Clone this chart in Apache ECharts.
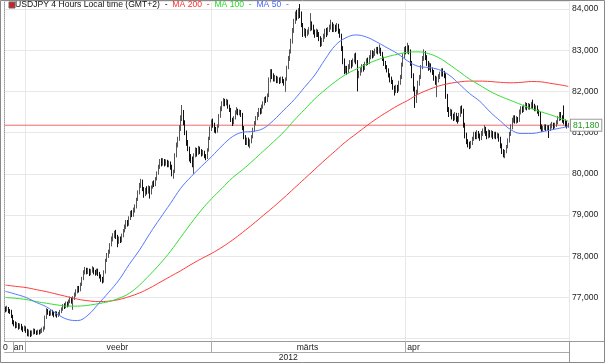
<!DOCTYPE html>
<html><head><meta charset="utf-8">
<script src="https://cdn.jsdelivr.net/npm/echarts@6/dist/echarts.min.js"></script>
<style>html,body{margin:0;padding:0;background:#fff}#c{width:605px;height:363px}</style>
</head><body><div id="c"></div>
<script>
// ---- DATA (4-hour candles, [open, close, low, high]) ----
const janCandles = [
[76.72,76.70,76.64,76.78],[76.70,76.74,76.66,76.80],[76.74,76.68,76.62,76.77],[76.68,76.66,76.60,76.72],
[76.66,76.55,76.50,76.70],[76.55,76.40,76.35,76.58],[76.40,76.36,76.30,76.45],[76.36,76.30,76.25,76.42],
[76.30,76.34,76.26,76.40],[76.34,76.28,76.22,76.38],[76.28,76.32,76.24,76.37],[76.32,76.26,76.20,76.36],
[76.26,76.22,76.16,76.30],[76.22,76.27,76.18,76.32]
];
const febCandles = [
[76.27,76.20,76.14,76.30],[76.20,76.12,76.06,76.24],[76.12,76.16,76.05,76.22],[76.16,76.10,76.04,76.20],
[76.10,76.15,76.06,76.20],[76.15,76.20,76.10,76.25],[76.20,76.16,76.11,76.24],[76.16,76.14,76.09,76.20],
[76.14,76.18,76.10,76.22],[76.18,76.15,76.10,76.22],[76.15,76.19,76.12,76.24],[76.19,76.22,76.14,76.27],
[76.22,76.25,76.17,76.30],[76.25,76.52,76.22,76.56],[76.52,76.68,76.48,76.74],[76.68,76.64,76.58,76.72],
[76.64,76.60,76.55,76.68],[76.60,76.66,76.56,76.70],[76.66,76.62,76.56,76.70],[76.62,76.58,76.52,76.66],
[76.58,76.63,76.54,76.67],[76.63,76.57,76.51,76.66],[76.57,76.60,76.53,76.65],[76.60,76.66,76.56,76.70],
[76.66,76.72,76.62,76.76],[76.72,76.80,76.68,76.84],[76.80,76.78,76.72,76.86],[76.78,76.86,76.74,76.90],
[76.86,76.82,76.76,76.90],[76.82,76.90,76.78,76.95],[76.90,76.96,76.86,77.02],[76.96,76.92,76.85,77.00],
[76.92,76.98,76.70,77.03],[76.98,77.08,76.94,77.12],[77.08,77.15,77.02,77.20],[77.15,77.22,77.10,77.28],
[77.22,77.18,77.12,77.28],[77.18,77.32,77.15,77.36],[77.32,77.45,77.28,77.50],[77.45,77.62,77.42,77.66],
[77.62,77.68,77.56,77.74],[77.68,77.62,77.56,77.72],[77.62,77.66,77.57,77.72],[77.66,77.58,77.52,77.70],
[77.58,77.64,77.54,77.69],[77.64,77.70,77.60,77.76],[77.70,77.62,77.56,77.73],[77.62,77.60,77.53,77.67],
[77.60,77.66,77.55,77.70],[77.66,77.58,77.52,77.70],[77.58,77.52,77.46,77.62],[77.52,77.44,77.38,77.56],
[77.44,77.40,77.34,77.50],[77.40,77.62,77.36,77.66],[77.62,77.90,77.58,77.94],[77.90,78.02,77.86,78.08],
[78.02,78.10,77.96,78.16],[78.10,78.28,78.06,78.32],[78.28,78.42,78.24,78.48],[78.42,78.50,78.36,78.56],
[78.50,78.58,78.44,78.62],[78.58,78.48,78.42,78.64],[78.48,78.36,78.22,78.52],[78.36,78.42,78.30,78.48],
[78.42,78.38,78.32,78.48],[78.38,78.50,78.34,78.55],[78.50,78.62,78.46,78.66],[78.62,78.72,78.58,78.77],
[78.72,78.82,78.66,78.88],[78.82,78.78,78.72,78.88],[78.78,78.92,78.74,78.97],[78.92,79.05,78.88,79.10],
[79.05,79.00,78.95,79.12],[79.00,79.12,78.96,79.18],[79.12,79.20,79.06,79.26],[79.20,79.38,79.16,79.42],
[79.38,79.55,79.34,79.60],[79.55,79.72,79.50,79.78],[79.72,79.82,79.66,79.88],[79.82,79.64,79.58,79.86],
[79.64,79.50,79.42,79.68],[79.50,79.62,79.46,79.66],[79.62,79.58,79.50,79.70],[79.58,79.66,79.52,79.72],
[79.66,79.55,79.40,79.70],[79.55,79.68,79.50,79.72],[79.68,79.78,79.64,79.82],[79.78,79.74,79.68,79.84],
[79.74,79.88,79.70,79.92],[79.88,80.02,79.84,80.06],[80.02,80.18,79.98,80.22],[80.18,80.30,80.12,80.36],
[80.30,80.26,80.18,80.38],[80.26,80.32,80.20,80.38],[80.32,80.24,80.18,80.36],[80.24,80.30,80.20,80.35],
[80.30,80.22,80.16,80.34],[80.22,80.26,80.16,80.32],[80.26,80.18,80.10,80.30],[80.18,80.00,79.94,80.22],
[80.00,80.06,79.88,80.10],[80.06,80.45,80.02,80.50],[80.45,80.70,80.40,80.76],[80.70,80.85,80.64,80.90],
[80.85,81.10,80.80,81.18],[81.10,81.35,81.04,81.42],[81.35,81.46,81.28,81.67],[81.46,81.25,81.18,81.55],
[81.25,81.00,80.94,81.30],[81.00,80.76,80.68,81.05],[80.76,80.62,80.55,80.82],[80.62,80.40,80.30,80.66],
[80.40,80.34,80.26,80.48],[80.34,80.30,80.16,80.42],[80.30,80.45,80.00,80.50],[80.45,80.58,80.40,80.64],
[80.58,80.50,80.42,80.63],[80.50,80.62,80.46,80.68],[80.62,80.55,80.48,80.66],[80.55,80.48,80.42,80.60],
[80.48,80.52,80.44,80.58],[80.52,80.44,80.38,80.56],[80.44,80.40,80.33,80.48],[80.40,80.58,80.36,80.62],
[80.58,80.86,80.54,80.90],[80.86,81.10,80.82,81.15]
];
const marCandles = [
[81.10,81.26,81.04,81.32],[81.26,81.20,81.12,81.34],[81.20,81.08,81.00,81.24],[81.08,81.04,80.98,81.14],
[81.04,81.15,81.00,81.20],[81.15,81.40,81.12,81.45],[81.40,81.58,81.36,81.64],[81.58,81.70,81.52,81.76],
[81.70,81.78,81.64,81.84],[81.78,81.72,81.64,81.82],[81.72,81.76,81.66,81.82],[81.76,81.64,81.58,81.80],
[81.64,81.56,81.50,81.68],[81.56,81.32,81.26,81.60],[81.32,81.24,81.16,81.36],[81.24,81.36,81.20,81.40],
[81.36,81.50,81.32,81.54],[81.50,81.55,81.44,81.62],[81.55,81.48,81.42,81.58],[81.48,81.52,81.42,81.56],
[81.52,81.44,81.38,81.55],[81.44,81.12,81.06,81.48],[81.12,80.90,80.84,81.16],[80.90,80.78,80.70,80.94],
[80.78,80.84,80.70,80.88],[80.84,80.74,80.66,80.88],[80.74,80.80,80.62,80.84],[80.80,80.90,80.74,80.94],
[80.90,81.08,80.86,81.12],[81.08,81.22,81.02,81.28],[81.22,81.36,81.18,81.40],[81.36,81.44,81.30,81.50],
[81.44,81.54,81.38,81.60],[81.54,81.50,81.44,81.60],[81.50,81.62,81.46,81.68],[81.62,81.72,81.58,81.76],
[81.72,81.82,81.66,81.86],[81.82,81.78,81.72,81.88],[81.78,81.90,81.74,81.95],[81.90,82.28,81.86,82.34],
[82.28,82.46,82.22,82.54],[82.46,82.38,82.30,82.54],[82.38,82.30,82.24,82.44],[82.30,82.34,82.24,82.40],
[82.34,82.26,82.20,82.38],[82.26,82.30,82.20,82.36],[82.30,82.24,82.18,82.34],[82.24,82.32,82.20,82.36],
[82.32,82.26,82.20,82.36],[82.26,82.22,82.14,82.30],[82.22,82.30,81.99,82.34],[82.30,82.58,82.26,82.62],
[82.58,82.80,82.54,82.86],[82.80,82.96,82.74,83.02],[82.96,83.22,82.92,83.28],[83.22,83.48,83.16,83.54],
[83.48,83.70,83.42,83.76],[83.70,83.88,83.64,83.94],[83.88,83.80,83.72,83.98],[83.80,83.96,83.76,84.02],
[83.96,83.90,83.78,84.12],[83.90,83.62,83.56,83.94],[83.62,83.40,83.32,83.66],[83.40,83.48,83.34,83.54],
[83.48,83.38,83.30,83.52],[83.38,83.44,83.34,83.50],[83.44,83.50,83.38,83.56],[83.50,83.62,83.46,83.90],
[83.62,83.56,83.48,83.70],[83.56,83.44,83.38,83.62],[83.44,83.36,83.30,83.50],[83.36,83.46,83.32,83.52],
[83.46,83.40,83.32,83.50],[83.40,83.30,83.22,83.44],[83.30,83.16,83.08,83.34],[83.16,83.24,83.10,83.30],
[83.24,83.34,83.20,83.40],[83.34,83.46,83.28,83.52],[83.46,83.40,83.32,83.54],[83.40,83.50,83.36,83.56],
[83.50,83.56,83.44,83.62],[83.56,83.62,83.50,83.74],[83.62,83.50,83.44,83.68],[83.50,83.58,83.44,83.64],
[83.58,83.52,83.44,83.62],[83.52,83.60,83.46,83.66],[83.60,83.48,83.40,83.64],[83.48,83.36,83.30,83.52],
[83.36,83.06,82.98,83.40],[83.06,82.74,82.66,83.10],[82.74,82.50,82.42,82.80],[82.50,82.56,82.44,82.62],
[82.56,82.48,82.40,82.62],[82.48,82.60,82.44,82.66],[82.60,82.70,82.54,82.76],[82.70,82.64,82.56,82.76],
[82.64,82.74,82.60,82.80],[82.74,82.86,82.70,82.92],[82.86,82.72,82.66,82.94],[82.72,82.40,82.00,82.76],
[82.40,82.44,82.32,82.50],[82.44,82.52,82.38,82.58],[82.52,82.60,82.46,82.66],[82.60,82.56,82.48,82.66],
[82.56,82.68,82.52,82.72],[82.68,82.76,82.62,82.80],[82.76,82.70,82.64,82.82],[82.70,82.82,82.66,82.88],
[82.82,82.94,82.78,83.00],[82.94,82.88,82.80,83.00],[82.88,82.92,82.82,82.98],[82.92,82.98,82.86,83.04],
[82.98,83.04,82.92,83.08],[83.04,82.96,82.90,83.08],[82.96,83.02,82.92,83.14],[83.02,82.92,82.86,83.06],
[82.92,82.80,82.74,82.96],[82.80,82.70,82.62,82.84],[82.70,82.60,82.54,82.74],[82.60,82.52,82.46,82.64],
[82.52,82.40,82.34,82.56],[82.40,82.30,82.22,82.44],[82.30,82.24,82.18,82.36],[82.24,82.10,82.04,82.28],
[82.10,82.02,81.90,82.14],[82.02,82.10,81.96,82.16],[82.10,82.04,81.96,82.16],[82.04,82.20,82.00,82.26],
[82.20,82.34,82.16,82.40],[82.34,82.64,82.30,82.70],[82.64,82.86,82.60,82.92],[82.86,83.02,82.80,83.08]
];
const aprCandles = [
[83.02,82.96,82.90,83.10],[82.96,83.06,82.92,83.18],[83.06,82.98,82.90,83.12],[82.98,82.70,82.62,83.02],
[82.70,82.40,82.32,82.74],[82.40,82.08,82.00,82.44],[82.08,81.80,81.60,82.12],[81.80,81.98,81.72,82.04],
[81.98,82.20,81.94,82.26],[82.20,82.34,82.14,82.40],[82.34,82.58,82.30,82.64],[82.58,82.80,82.54,82.86],
[82.80,82.92,82.74,83.02],[82.92,82.84,82.76,82.98],[82.84,82.70,82.62,82.88],[82.70,82.58,82.50,82.74],
[82.58,82.64,82.52,82.70],[82.64,82.54,82.46,82.68],[82.54,82.48,82.40,82.58],[82.48,82.34,82.26,82.52],
[82.34,82.24,82.16,82.38],[82.24,82.30,81.86,82.36],[82.30,82.36,82.22,82.42],[82.36,82.42,82.30,82.48],
[82.42,82.50,82.36,82.56],[82.50,82.44,82.36,82.56],[82.44,82.40,82.32,82.50],[82.40,81.90,81.82,82.44],
[81.90,81.58,81.50,81.94],[81.58,81.46,81.38,81.62],[81.46,81.52,81.40,81.58],[81.52,81.40,81.32,81.56],
[81.40,81.36,81.28,81.46],[81.36,81.44,81.30,81.50],[81.44,81.34,81.26,81.48],[81.34,81.30,81.22,81.40],
[81.30,81.42,81.26,81.48],[81.42,81.58,81.38,81.64],[81.58,81.54,81.46,81.66],[81.54,81.20,81.12,81.58],
[81.20,80.94,80.86,81.24],[80.94,80.80,80.72,81.00],[80.80,80.72,80.64,80.84],[80.72,80.68,80.60,80.78],
[80.68,80.76,80.62,80.80],[80.76,80.84,80.70,80.90],[80.84,80.96,80.80,81.02],[80.96,80.90,80.84,81.02],
[80.90,81.00,80.84,81.06],[81.00,80.92,80.86,81.04],[80.92,80.86,80.80,80.98],[80.86,80.98,80.82,81.04],
[80.98,81.04,80.92,81.10],[81.04,81.10,80.98,81.18],[81.10,80.98,80.92,81.14],[80.98,80.90,80.84,81.04],
[80.90,81.02,80.86,81.08],[81.02,80.94,80.88,81.06],[80.94,81.00,80.88,81.06],[81.00,80.92,80.84,81.04],
[80.92,80.98,80.86,81.02],[80.98,80.90,80.84,81.02],[80.90,80.94,80.86,81.00],[80.94,80.86,80.78,80.98],
[80.86,80.70,80.62,80.90],[80.70,80.56,80.48,80.74],[80.56,80.48,80.40,80.60],[80.48,80.54,80.38,80.58],
[80.54,80.66,80.50,80.70],[80.66,80.80,80.62,80.86],[80.80,80.96,80.76,81.02],[80.96,81.14,80.92,81.20],
[81.14,81.30,81.08,81.36],[81.30,81.36,81.24,81.42],[81.36,81.28,81.22,81.42],[81.28,81.34,81.22,81.40],
[81.34,81.30,81.24,81.38],[81.30,81.50,81.26,81.56],[81.50,81.58,81.44,81.64],[81.58,81.54,81.48,81.64],
[81.54,81.62,81.50,81.68],[81.62,81.68,81.56,81.74],[81.68,81.60,81.54,81.72],[81.60,81.66,81.56,81.72],
[81.66,81.62,81.56,81.70],[81.62,81.70,81.58,81.74],[81.70,81.66,81.58,81.80],[81.66,81.58,81.52,81.70],
[81.58,81.62,81.52,81.66],[81.62,81.52,81.46,81.66],[81.52,81.46,81.40,81.56],[81.46,81.16,81.08,81.50],
[81.16,81.08,81.02,81.20],[81.08,81.12,81.02,81.16],[81.12,81.16,81.06,81.20],[81.16,81.10,81.04,81.20],
[81.10,81.14,81.06,81.18],[81.14,81.08,80.87,81.18],[81.08,81.16,81.04,81.22],[81.16,81.20,81.10,81.26],
[81.20,81.14,81.08,81.24],[81.14,81.20,81.10,81.24],[81.20,81.24,81.14,81.30],[81.24,81.34,81.20,81.40],
[81.34,81.44,81.28,81.50],[81.44,81.36,81.30,81.50],[81.36,81.30,81.24,81.42],[81.30,81.26,81.20,81.66],
[81.26,81.22,81.14,81.32],[81.22,81.15,81.10,81.28],[81.15,81.18,81.12,81.24]
];
// moving averages at these candle indices
const maIdx = [0,7,14,21,28,35,42,49,56,63,70,77,84,91,98,105,112,119,126,133,140,147,154,161,168,175,182,189,196,203,210,217,224,231,238,245,252,259,266,273,280,287,294,301,308,315,322,329,336,343,350,357,364,371,378,382];
const ma200 = [77.30,77.27,77.24,77.19,77.14,77.08,77.02,76.96,76.92,76.90,76.91,76.95,77.02,77.11,77.23,77.37,77.51,77.65,77.80,77.94,78.07,78.22,78.39,78.58,78.78,78.99,79.20,79.42,79.65,79.88,80.11,80.34,80.56,80.78,80.97,81.16,81.34,81.50,81.65,81.78,81.93,82.04,82.13,82.19,82.23,82.25,82.25,82.24,82.22,82.21,82.22,82.24,82.23,82.19,82.15,82.12];
const ma100 = [77.00,76.98,76.95,76.90,76.86,76.82,76.79,76.79,76.81,76.85,76.90,76.98,77.10,77.30,77.55,77.82,78.12,78.46,78.80,79.12,79.40,79.65,79.90,80.10,80.32,80.55,80.78,81.02,81.30,81.56,81.82,82.04,82.24,82.41,82.54,82.66,82.76,82.84,82.90,82.95,82.96,82.92,82.82,82.66,82.48,82.30,82.15,82.00,81.88,81.78,81.68,81.58,81.50,81.42,81.33,81.28];
const ma50 = [77.15,77.08,77.00,76.88,76.77,76.60,76.47,76.44,76.57,76.84,77.12,77.42,77.80,78.15,78.55,78.92,79.28,79.65,79.93,80.18,80.42,80.68,80.90,81.01,81.03,81.10,81.30,81.55,81.80,82.10,82.40,82.78,83.12,83.30,83.37,83.32,83.20,83.06,82.92,82.74,82.61,82.58,82.53,82.40,82.18,81.95,81.76,81.50,81.28,81.07,80.98,80.98,81.02,81.07,81.12,81.15];
// bottom axis labels
const monthTickIdx = [6, 14, 140, 272];
const monthGridIdx = [14, 140, 272];
const monthLabelIdx = [0, 9, 76, 205, 277];
const monthLabelText = ['0', 'an', 'veebr', 'märts', 'apr'];
const yearLabelIdx = 192;
const yearLabelText = '2012';

// ---- chart ----
const FONT = '"Liberation Sans", Arial, Helvetica, sans-serif';
const FS = 8.6;
const candles = [].concat(janCandles, febCandles, marCandles, aprCandles);
const N = candles.length;
const LAST = aprCandles[aprCandles.length - 1][1];
const PRICE_LINE = '#f06a6a';

// category names: 4-hour trading periods (weekdays only), local GMT+2
const candleTimes = [];
(function () {
  let t = Date.UTC(2012, 0, 27, 16);
  while (candleTimes.length < N) {
    const d = new Date(t);
    const wd = d.getUTCDay();
    if (wd !== 0 && wd !== 6) {
      const p = n => String(n).padStart(2, '0');
      candleTimes.push(d.getUTCFullYear() + '-' + p(d.getUTCMonth() + 1) + '-' + p(d.getUTCDate()) + ' ' + p(d.getUTCHours()) + ':00');
    }
    t += 4 * 3600 * 1000;
  }
})();
const pairs = vals => maIdx.map((ix, k) => [ix, vals[k]]);
const fmt = v => v.toFixed(3).replace('.', ',');

const Y_MAX = 84.194, Y_MIN = 75.944;

const chart = echarts.init(document.getElementById('c'), null, { renderer: 'canvas' });
chart.setOption({
  animation: false,
  backgroundColor: '#ffffff',
  title: {
    left: 15, top: 0, padding: 0,
    text: '{k|USDJPY 4 Hours Local time (GMT+2)}{k|  -  }{r|MA 200}{r|  -  }{g|MA 100}{g|  -  }{b|MA 50}{b|  -}',
    textStyle: {
      fontFamily: FONT, fontSize: FS, fontWeight: 'normal', color: '#000',
      rich: {
        k: { color: '#111', fontFamily: FONT, fontSize: FS },
        r: { color: '#ff2a2a', fontFamily: FONT, fontSize: FS },
        g: { color: '#22dd22', fontFamily: FONT, fontSize: FS },
        b: { color: '#4a66ff', fontFamily: FONT, fontSize: FS }
      }
    }
  },
  grid: { left: 0, right: 36, top: 1, bottom: 22 },
  xAxis: [{
    type: 'category', data: candleTimes, boundaryGap: true, position: 'bottom',
    axisLine: { show: true, lineStyle: { color: '#999' } },
    axisTick: { show: true, length: 11, interval: i => monthTickIdx.includes(i), lineStyle: { color: '#aaa' } },
    axisLabel: {
      show: true, interval: i => monthLabelIdx.includes(i),
      formatter: (v, i) => monthLabelText[monthLabelIdx.indexOf(i)],
      margin: 2, fontSize: FS, fontFamily: FONT, color: '#222'
    },
    splitLine: { show: true, interval: i => monthGridIdx.includes(i), lineStyle: { color: '#e8e8e8' } }
  }, {
    type: 'category', data: candleTimes, boundaryGap: true, position: 'bottom', offset: 11,
    axisLine: { show: true, lineStyle: { color: '#aaa' } },
    axisTick: { show: false },
    axisLabel: {
      show: true, interval: i => i === yearLabelIdx, formatter: () => yearLabelText,
      margin: 1, fontSize: FS, fontFamily: FONT, color: '#222'
    },
    splitLine: { show: false }
  }, {
    // helper axis spanning the full plot width, used for the last-price line
    type: 'value', min: 0, max: 1, show: false, position: 'top'
  }],
  yAxis: {
    type: 'value', position: 'right', min: Y_MIN, max: Y_MAX, minInterval: 1, maxInterval: 1, splitNumber: 8,
    axisLine: { show: true, lineStyle: { color: '#999', type: 'dotted' } },
    axisTick: { show: false },
    axisLabel: {
      margin: 3, fontSize: FS, fontFamily: FONT, color: '#222',
      formatter: v => (Math.abs(v - Math.round(v)) < 1e-6 && v >= 77 && v <= 84) ? fmt(v) : ''
    },
    splitLine: { show: true, lineStyle: { color: '#e8e8e8' } }
  },
  series: [{
    name: 'last price', type: 'line', xAxisIndex: 2, data: [[0, LAST], [1, LAST]],
    symbol: 'none', showSymbol: false, silent: true, z: 1,
    itemStyle: { color: PRICE_LINE },
    lineStyle: { color: PRICE_LINE, width: 1, type: 'solid' },
    endLabel: {
      show: true, distance: 2, formatter: () => fmt(LAST),
      color: '#1f9a1f', fontSize: FS, fontFamily: FONT,
      backgroundColor: '#fff', borderColor: '#999', borderWidth: 1, padding: [1, 2, 1, 2]
    }
  }, {
    type: 'candlestick', data: candles, xAxisIndex: 0, z: 2,
    itemStyle: { color: '#ffffff', color0: '#111111', borderColor: '#555', borderColor0: '#111', borderWidth: 1 }
  }, {
    name: 'MA 200', type: 'line', data: pairs(ma200), symbol: 'none', smooth: 0.4,
    lineStyle: { color: '#ff3a3a', width: 1 }, z: 3
  }, {
    name: 'MA 100', type: 'line', data: pairs(ma100), symbol: 'none', smooth: 0.4,
    lineStyle: { color: '#33dd33', width: 1 }, z: 3
  }, {
    name: 'MA 50', type: 'line', data: pairs(ma50), symbol: 'none', smooth: 0.4,
    lineStyle: { color: '#5577ff', width: 1 }, z: 3
  }],
  graphic: [
    { type: 'rect', shape: { x: 9, y: 2, width: 6, height: 6 }, style: { fill: '#cc2222', stroke: '#666', lineWidth: 1 }, z: 10 },
    { type: 'line', shape: { x1: 569.5, y1: 341, x2: 569.5, y2: 363 }, style: { stroke: '#999', lineWidth: 1 }, z: 10 },
    { type: 'line', shape: { x1: 569, y1: 341.5, x2: 605, y2: 341.5 }, style: { stroke: '#999', lineWidth: 1 }, z: 10 },
    { type: 'rect', shape: { x: 0.5, y: 0.5, width: 604, height: 362 }, style: { fill: 'none', stroke: '#888', lineWidth: 1 }, z: 10 }
  ]
});
</script></body></html>
